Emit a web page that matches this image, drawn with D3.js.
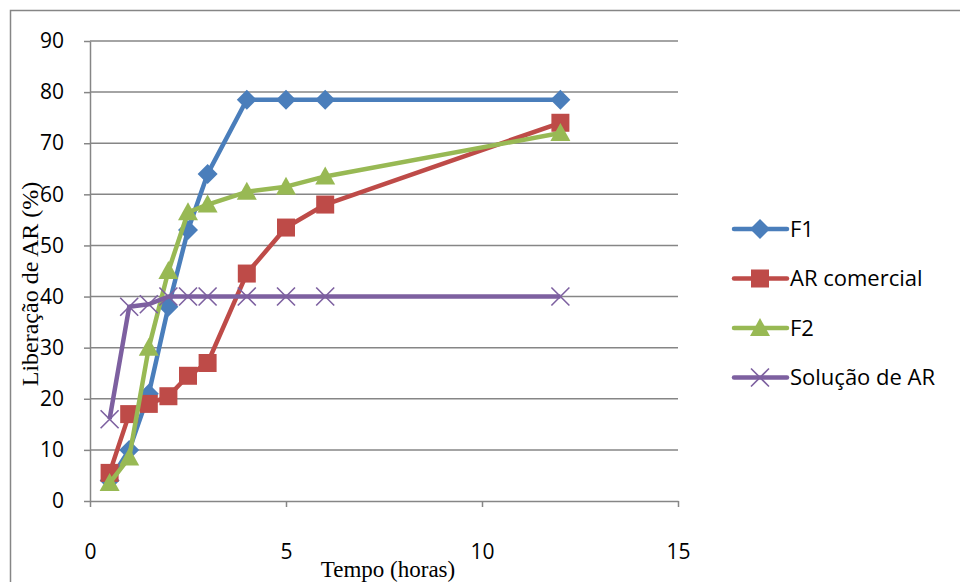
<!DOCTYPE html>
<html>
<head>
<meta charset="utf-8">
<script src="https://cdn.jsdelivr.net/npm/d3@7"></script>
<style>
  body { margin: 0; background: #fff; }
  .tick text { font-family: "Open Sans", sans-serif; font-size: 21px; fill: #000; }
  .title { font-family: "Liberation Serif", serif; font-size: 23px; fill: #000; }
  .legend text { font-family: "Open Sans", sans-serif; font-size: 22px; fill: #000; }
</style>
</head>
<body>
<div id="chart"></div>
<script>
// tempo (horas)
const times = [0.5, 1, 1.5, 2, 2.5, 3, 4, 5, 6, 12];
// liberação de AR (%)
const f1 = [4, 10, 21, 38, 53, 64, 78.5, 78.5, 78.5, 78.5];
const arComercial = [5.5, 17, 19, 20.5, 24.5, 27, 44.5, 53.5, 58, 74];
const f2 = [3.5, 8.5, 30, 45, 56.5, 58, 60.5, 61.5, 63.5, 72];
const solucao = [16, 38, 38.5, 40, 40, 40, 40, 40, 40, 40];

const seriesNames = ["F1", "AR comercial", "F2", "Solução de AR"];
const xTicks = [0, 5, 10, 15];
const yTicks = [0, 10, 20, 30, 40, 50, 60, 70, 80, 90];

const series = [
  { name: seriesNames[0], values: f1, color: "#4A7EBB", marker: "diamond" },
  { name: seriesNames[1], values: arComercial, color: "#BE4B48", marker: "square" },
  { name: seriesNames[2], values: f2, color: "#98B954", marker: "triangle" },
  { name: seriesNames[3], values: solucao, color: "#7D60A0", marker: "x" }
];

const svg = d3.select("#chart")
  .append("svg")
  .attr("width", 960)
  .attr("height", 582);

// outer frame
svg.append("rect")
  .attr("x", 10.5).attr("y", 10.5)
  .attr("width", 1000).attr("height", 700)
  .attr("fill", "none")
  .attr("stroke", "#868686")
  .attr("stroke-width", 1.5);

const x = d3.scaleLinear().domain([0, 15]).range([90, 678]);
const y = d3.scaleLinear().domain([0, 90]).range([501, 41]);

// gridlines
svg.append("g")
  .selectAll("line")
  .data(yTicks.filter(d => d > 0))
  .enter()
  .append("line")
  .attr("x1", x(0)).attr("x2", x(15))
  .attr("y1", d => y(d)).attr("y2", d => y(d))
  .attr("stroke", "#868686")
  .attr("stroke-width", 1.5);

const yAxis = svg.append("g")
  .attr("transform", `translate(${x(0)},0)`)
  .call(d3.axisLeft(y).tickValues(yTicks).tickSize(6).tickPadding(20).tickSizeOuter(0));

const xAxis = svg.append("g")
  .attr("transform", `translate(0,${y(0)})`)
  .call(d3.axisBottom(x).tickValues(xTicks).tickSize(6).tickPadding(37).tickSizeOuter(0));

[yAxis, xAxis].forEach(g => {
  g.select(".domain").attr("stroke", "#868686").attr("stroke-width", 1.5);
  g.selectAll(".tick line").attr("stroke", "#868686").attr("stroke-width", 1.5);
});

svg.append("text")
  .attr("class", "title")
  .attr("x", 388).attr("y", 577)
  .attr("text-anchor", "middle")
  .text("Tempo (horas)");

svg.append("text")
  .attr("class", "title")
  .attr("transform", "translate(38,284) rotate(-90)")
  .attr("text-anchor", "middle")
  .style("font-size", "24px")
  .text("Liberação de AR (%)");

function drawMarker(g, type, color) {
  if (type === "diamond") {
    g.append("path").attr("d", "M0,-10L10,0L0,10L-10,0Z").attr("fill", color);
  } else if (type === "square") {
    g.append("rect").attr("x", -9).attr("y", -9).attr("width", 18).attr("height", 18).attr("fill", color);
  } else if (type === "triangle") {
    g.append("path").attr("d", "M0,-10L10,8L-10,8Z").attr("fill", color);
  } else {
    g.append("path").attr("d", "M-9,-9L9,9M-9,9L9,-9")
      .attr("stroke", color).attr("stroke-width", 1.6).attr("fill", "none");
  }
}

const line = d3.line()
  .x((d, i) => x(times[i]))
  .y(d => y(d));

series.forEach(s => {
  const g = svg.append("g");
  g.append("path")
    .datum(s.values)
    .attr("d", line)
    .attr("fill", "none")
    .attr("stroke", s.color)
    .attr("stroke-width", 4.5)
    .attr("stroke-linejoin", "round");
  g.selectAll(".m")
    .data(s.values)
    .enter()
    .append("g")
    .attr("transform", (d, i) => `translate(${x(times[i])},${y(d)})`)
    .each(function() { drawMarker(d3.select(this), s.marker, s.color); });
});

// legend
const legend = svg.append("g").attr("class", "legend");
series.forEach((s, i) => {
  const ly = 229 + i * 49.5;
  const row = legend.append("g").attr("transform", `translate(760,${ly})`);
  row.append("line")
    .attr("x1", -26).attr("x2", 27)
    .attr("stroke", s.color).attr("stroke-width", 4.5).attr("stroke-linecap", "round");
  drawMarker(row, s.marker, s.color);
  row.append("text")
    .attr("x", 30).attr("dy", "0.35em")
    .text(s.name);
});
</script>
</body>
</html>
